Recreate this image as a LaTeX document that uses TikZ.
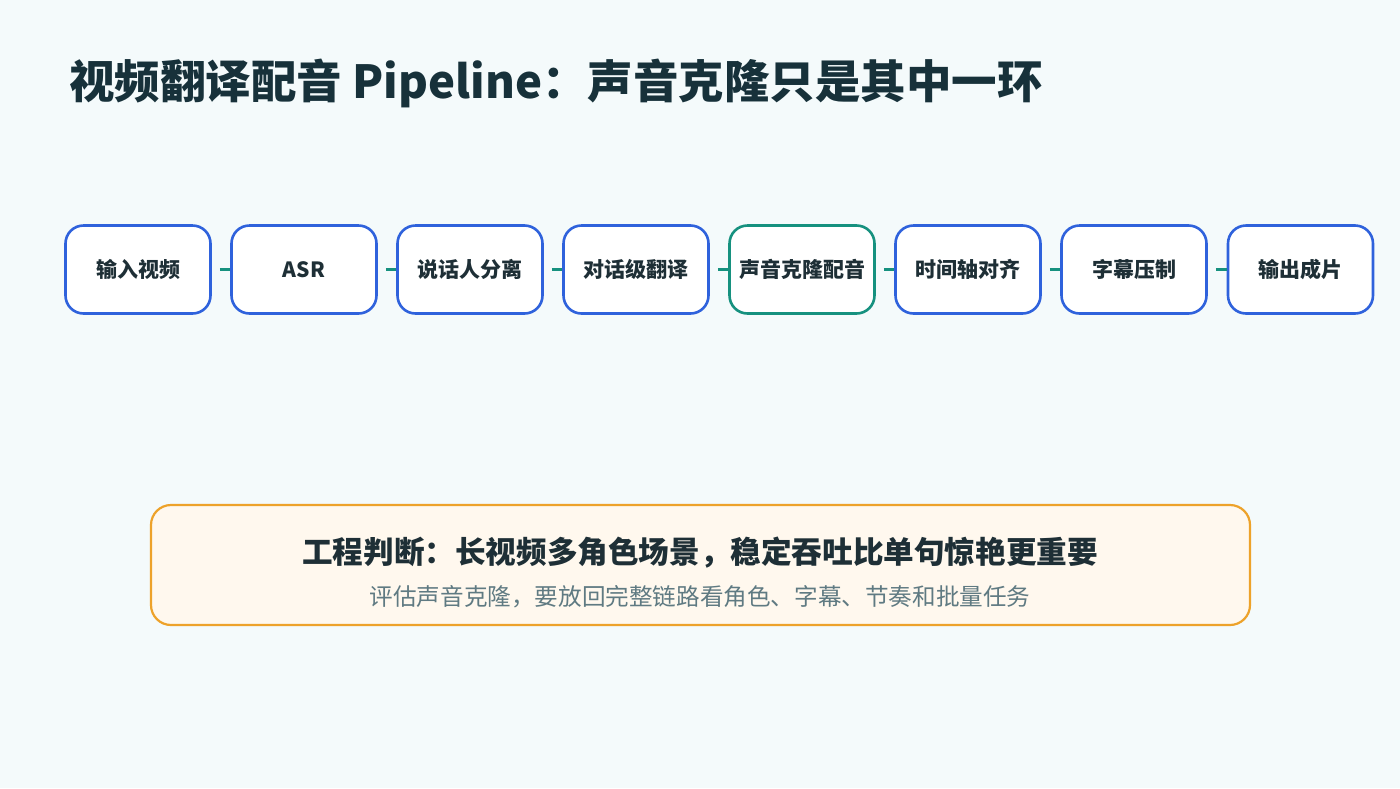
\documentclass[tikz,border=0pt]{standalone}
\usepackage{fontspec}
\setmainfont{Noto Sans CJK SC}
\definecolor{bgc}{HTML}{F4FAFB}
\definecolor{titlec}{HTML}{17313A}
\definecolor{boxblue}{HTML}{2F62DC}
\definecolor{boxteal}{HTML}{16917F}
\definecolor{linkc}{HTML}{16917F}
\definecolor{textc}{HTML}{1E2F36}
\definecolor{noteo}{HTML}{EDA22A}
\definecolor{notefill}{HTML}{FFF8EE}
\definecolor{subc}{HTML}{5F7A82}
\tikzset{
  stage/.style={draw=boxblue, line width=2.6pt, fill=white, rounded corners=18pt,
    minimum width=145pt, minimum height=88pt, inner sep=0pt, text=textc,
    font=\fontsize{21pt}{24pt}\selectfont\bfseries},
  stagekey/.style={stage, draw=boxteal},
  link/.style={draw=linkc, line width=3pt, shorten <=8pt},
  notebox/.style={draw=noteo, line width=2.2pt, fill=notefill, rounded corners=20pt,
    minimum width=1099pt, minimum height=120pt, inner sep=0pt},
}
\begin{document}
\begin{tikzpicture}[x=1pt,y=-1pt]
\fill[bgc] (0,0) rectangle (1400,788);
\useasboundingbox (0,0) rectangle (1400,788);
\node[anchor=west, text=titlec, font=\fontsize{45.5pt}{50pt}\selectfont\bfseries, inner sep=0pt]
  (title) at (69,83) {视频翻译配音 Pipeline：声音克隆只是其中一环};
\node[stage] (s1) at (138,269.5) {\raisebox{-2pt}{输入视频}};
\node[stage] (s2) at (304,269.5) {\raisebox{-2pt}{ASR}};
\node[stage] (s3) at (470,269.5) {\raisebox{-2pt}{说话人分离}};
\node[stage] (s4) at (636,269.5) {\raisebox{-2pt}{对话级翻译}};
\node[stagekey] (s5) at (802,269.5) {\raisebox{-2pt}{声音克隆配音}};
\node[stage] (s6) at (968,269.5) {\raisebox{-2pt}{时间轴对齐}};
\node[stage] (s7) at (1134,269.5) {\raisebox{-2pt}{字幕压制}};
\node[stage] (s8) at (1300.5,269.5) {\raisebox{-2pt}{输出成片}};
\foreach \a/\b in {s1/s2,s2/s3,s3/s4,s4/s5,s5/s6,s6/s7,s7/s8}
  \draw[link] (\a.east) -- (\b.west);
\node[notebox] (note) at (700.5,565) {};
\node[text=textc, font=\fontsize{30.6pt}{34pt}\selectfont\bfseries, inner sep=0pt]
  (notehead) at (700,553) {工程判断：长视频多角色场景，稳定吞吐比单句惊艳更重要};
\node[text=subc, font=\fontsize{23.6pt}{27pt}\selectfont, inner sep=0pt]
  (notesub) at (700,597) {评估声音克隆，要放回完整链路看角色、字幕、节奏和批量任务};
\end{tikzpicture}
\end{document}
